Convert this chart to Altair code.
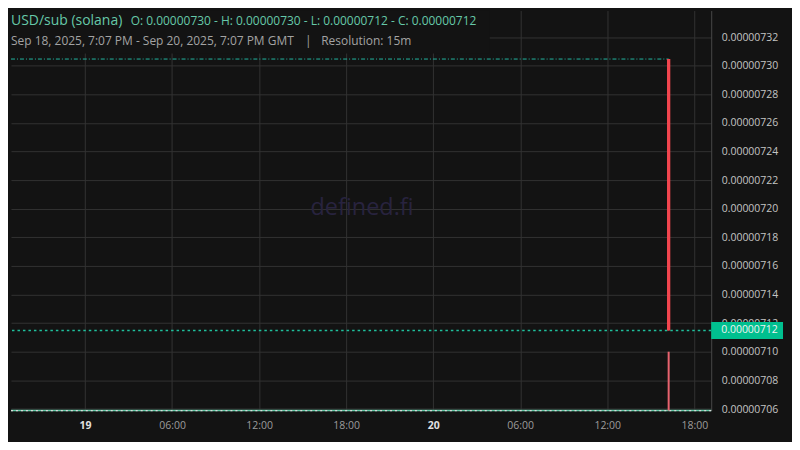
import altair as alt
import pandas as pd

# ---- text ----
pair_label = "USD/sub (solana)"
ohlc_label = "O: 0.00000730 - H: 0.00000730 - L: 0.00000712 - C: 0.00000712"
range_label = "Sep 18, 2025, 7:07 PM - Sep 20, 2025, 7:07 PM GMT"
sep_label = "|"
res_label = "Resolution: 15m"
watermark = "defined.fi"
badge_label = "0.00000712"

# ---- data ----
candle_time = ["2025-09-20T16:14:00Z"]
candle_open = [0.0000073047]
candle_high = [0.0000073047]
candle_low = [0.0000071149]
candle_close = [0.0000071149]
candle_volume = [1.0]

x_start = "2025-09-18T18:54:00Z"
x_end = "2025-09-20T19:10:00Z"
# x tick positions (day, hour), UTC
x_tick_days = [19, 19, 19, 19, 20, 20, 20, 20]
x_tick_hours = [0, 6, 12, 18, 0, 6, 12, 18]
y_domain = [0.00000705895, 0.0000073386]
y_ticks = [0.00000706, 0.00000708, 0.00000710, 0.00000712, 0.00000714,
           0.00000716, 0.00000718, 0.00000720, 0.00000722, 0.00000724,
           0.00000726, 0.00000728, 0.00000730, 0.00000732]
vol_domain = [0, 6.8]

W, H = 702, 401
BG = "#131313"
GRID = "#323232"
FONT = "Open Sans"
TEAL = "#66c9a9"
RED = "#f2464f"

df = pd.DataFrame({
    "t": candle_time, "t0": [x_start],
    "o": candle_open, "h": candle_high, "l": candle_low, "c": candle_close,
    "vol": candle_volume, "zero": [0.0],
})

xscale = alt.Scale(type="utc",
                   domain=[alt.DateTime(year=2025, month=9, date=18, hours=18, minutes=54, utc=True),
                           alt.DateTime(year=2025, month=9, date=20, hours=19, minutes=10, utc=True)],
                   nice=False)
yscale = alt.Scale(domain=y_domain, nice=False, zero=False)

x_values = [alt.DateTime(year=2025, month=9, date=d, hours=h, utc=True)
            for d, h in zip(x_tick_days, x_tick_hours)]

xaxis = alt.Axis(
    title=None, grid=True, gridColor=GRID, gridWidth=1, domain=False, ticks=False,
    labelPadding=10, values=x_values,
    labelExpr="utchours(datum.value) == 0 ? utcFormat(datum.value, '%d') : utcFormat(datum.value, '%H:%M')",
    labelFontWeight=alt.condition("utchours(datum.value) == 0", alt.value("bold"), alt.value("normal")),
    labelColor=alt.condition("utchours(datum.value) == 0", alt.value("#e0e0e0"), alt.value("#9c9c9c")),
    labelFont=FONT, labelFontSize=10.5, labelFlush=False, labelOverlap=False,
)
yaxis = alt.Axis(
    title=None, orient="right", values=y_ticks, format=".8f", grid=True,
    gridColor=GRID, gridWidth=1, ticks=False, domain=True, domainColor="#474747",
    labelPadding=10, labelColor="#c4c4c4", labelFont=FONT, labelFontSize=10.5,
    labelAlign="left", labelBaseline="middle", labelOverlap=False, labelFlush=False,
)


def py(field):
    return alt.Y(field, scale=yscale, axis=None, title=None)


def px(field):
    return alt.X(field, scale=xscale, title=None)


base = alt.Chart(df)

high_line = base.mark_rule(color="#22b5a0", strokeDash=[4, 2, 1, 2], strokeWidth=1).encode(
    x=alt.X("t0:T", scale=xscale, axis=xaxis), x2="t:T",
    y=alt.Y("h:Q", scale=yscale, axis=yaxis),
)
close_line = base.mark_rule(color="#1fbf9c", strokeDash=[2.5, 3], strokeWidth=1.3).encode(
    y=py("c:Q"),
)
wick = base.mark_rule(color=RED, strokeWidth=1).encode(
    x=px("t:T"), y=py("h:Q"), y2="l:Q",
)
body = base.mark_rule(color=RED, strokeWidth=3.3, strokeCap="butt").encode(
    x=px("t:T"), y=py("o:Q"), y2="c:Q",
)
legend_box = base.mark_rect(color=BG).encode(
    x=alt.value(0), x2=alt.value(480), y=alt.value(0), y2=alt.value(43)
)
wm = base.mark_text(text=watermark, font=FONT, fontSize=23.5, color="#28233f",
                    align="center", baseline="middle").encode(x=alt.value(352), y=alt.value(198))
badge = base.mark_rule(color="#00c08f", strokeWidth=17, strokeCap="butt").encode(
    x=alt.value(W), x2=alt.value(W + 72), y=py("c:Q"),
)
badge_text = base.mark_text(text=badge_label, font=FONT, fontSize=10.5, color="#f2f2f2",
                            align="left", baseline="middle").encode(
    x=alt.value(W + 10), y=py("c:Q"),
)
t1 = base.mark_text(text=pair_label, font=FONT, fontSize=14, color=TEAL,
                    align="left", baseline="middle").encode(x=alt.value(0), y=alt.value(10))
t2 = base.mark_text(text=ohlc_label, font=FONT, fontSize=12, color=TEAL,
                    align="left", baseline="middle").encode(x=alt.value(120), y=alt.value(10.5))
t3 = base.mark_text(text=range_label, font=FONT, fontSize=12, color="#a3a3a3",
                    align="left", baseline="middle").encode(x=alt.value(0), y=alt.value(31))
t4 = base.mark_text(text=sep_label, font=FONT, fontSize=12, color="#a3a3a3",
                    align="center", baseline="middle").encode(x=alt.value(298), y=alt.value(31))
t5 = base.mark_text(text=res_label, font=FONT, fontSize=12, color="#a3a3a3",
                    align="left", baseline="middle").encode(x=alt.value(311), y=alt.value(31))

vscale = alt.Scale(domain=vol_domain, nice=False, zero=True)
vol_bar = base.mark_rule(color="#e8636f", strokeWidth=2).encode(
    x=px("t:T"), y=alt.Y("zero:Q", scale=vscale, axis=None, title=None), y2="vol:Q",
)
vol_base = base.mark_rule(color="#5fc9a5", strokeWidth=1.6).encode(
    y=alt.Y("zero:Q", scale=vscale, axis=None, title=None),
)
vol_dots = base.mark_rule(color="#d8d8d8", strokeWidth=1.2, strokeDash=[2, 3]).encode(
    y=alt.Y("zero:Q", scale=vscale, axis=None, title=None),
)

chart = alt.layer(
    high_line, legend_box, wm, close_line, wick, body,
    vol_base, vol_dots, vol_bar,
    badge, badge_text, t1, t2, t3, t4, t5,
).resolve_scale(y="independent").properties(
    width=W, height=H, background=BG,
    padding={"left": 2, "top": 2, "right": 0, "bottom": 10},
).configure_view(stroke=None)

chart.save("out.html", embed_options={"renderer": "svg", "actions": False})
